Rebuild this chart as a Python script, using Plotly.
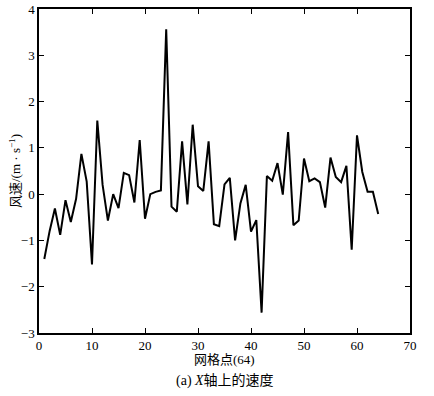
import plotly.graph_objects as go

grid_points = list(range(1, 65))
speed_x = [
    -1.40, -0.80, -0.31, -0.88, -0.13, -0.60, -0.10, 0.87, 0.27, -1.52,
    1.59, 0.20, -0.57, 0.00, -0.30, 0.46, 0.41, -0.18, 1.17, -0.53,
    0.00, 0.05, 0.08, 3.56, -0.27, -0.38, 1.14, -0.22, 1.50, 0.17,
    0.07, 1.14, -0.65, -0.69, 0.21, 0.35, -1.00, -0.20, 0.20, -0.81,
    -0.56, -2.56, 0.39, 0.29, 0.67, -0.01, 1.34, -0.67, -0.57, 0.77,
    0.28, 0.34, 0.26, -0.29, 0.79, 0.37, 0.26, 0.61, -1.20, 1.27,
    0.48, 0.05, 0.05, -0.43,
]
x_ticks = [0, 10, 20, 30, 40, 50, 60, 70]
y_ticks = [-3, -2, -1, 0, 1, 2, 3, 4]
y_tick_text = ["−3", "−2", "−1", "0", "1", "2", "3", "4"]

NUM_FONT = "Times New Roman, Liberation Serif, DejaVu Serif, serif"
CJK_FONT = "Times New Roman, Liberation Serif, Noto Sans CJK SC, serif"

fig = go.Figure()
fig.add_trace(go.Scatter(
    x=grid_points, y=speed_x, mode="lines",
    line=dict(color="black", width=2), showlegend=False,
))

axis_common = dict(
    showgrid=False, zeroline=False, showline=True, linecolor="black",
    linewidth=1.5, mirror="ticks", ticks="inside", ticklen=5,
    tickcolor="black", tickwidth=1, automargin=False,
    tickfont=dict(family=NUM_FONT, size=13, color="black"),
)
fig.update_xaxes(range=[0, 70], tickvals=x_ticks, **axis_common)
fig.update_yaxes(range=[-3, 4], tickvals=y_ticks, ticktext=y_tick_text,
                 **axis_common)

fig.update_layout(
    width=434, height=396,
    margin=dict(l=39, r=24, t=9, b=63),
    paper_bgcolor="white", plot_bgcolor="white",
    font=dict(family=CJK_FONT, color="black"),
    annotations=[
        dict(text="网格点(64)", xref="paper", yref="paper", x=0.5, y=0,
             yshift=-26, xanchor="center", yanchor="middle",
             showarrow=False, font=dict(family=CJK_FONT, size=13)),
        dict(text="(a) <i>X</i>轴上的速度", xref="paper", yref="paper",
             x=0.5, y=0, yshift=-48, xanchor="center", yanchor="middle",
             showarrow=False, font=dict(family=CJK_FONT, size=14)),
        dict(text="风速/(m · s<sup>−1</sup>)", xref="paper", yref="paper",
             x=0, y=0.5, xshift=-24, textangle=-90, xanchor="center",
             yanchor="middle", showarrow=False,
             font=dict(family=CJK_FONT, size=13)),
    ],
)

fig.write_html("out.html", config={"displayModeBar": False},
               post_script="document.body.style.margin='0';")
